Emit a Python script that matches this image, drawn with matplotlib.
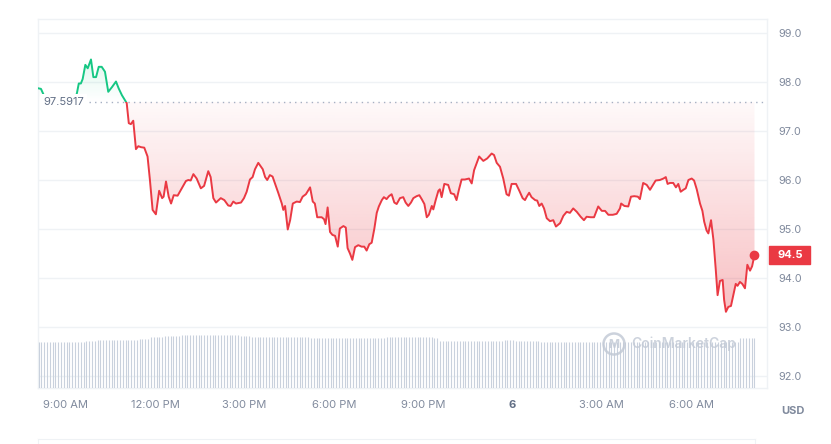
import numpy as np
import matplotlib
matplotlib.use('Agg')
from matplotlib import pyplot as plt
from matplotlib.path import Path
from matplotlib.patches import Rectangle, Ellipse
from matplotlib.colors import to_rgb
from matplotlib.transforms import blended_transform_factory

plt.rcParams['font.family'] = ['Inter', 'DejaVu Sans']

# hours since midnight of day 5 (24 = midnight, "6")
times = [8.08, 8.16, 8.22, 8.33, 8.53, 8.80, 9.07, 9.27, 9.37, 9.43,
         9.50, 9.56, 9.65, 9.73, 9.84, 9.92, 10.01, 10.10, 10.20, 10.31,
         10.42, 10.55, 10.68, 10.77, 10.88, 10.99, 11.04, 11.11, 11.18, 11.26,
         11.35, 11.43, 11.52, 11.63, 11.74, 11.82, 11.91, 12.02, 12.13, 12.23,
         12.28, 12.36, 12.45, 12.53, 12.62, 12.75, 12.92, 13.03, 13.11, 13.19,
         13.28, 13.39, 13.53, 13.64, 13.78, 13.86, 13.95, 14.04, 14.20, 14.32,
         14.45, 14.53, 14.62, 14.71, 14.88, 14.98, 15.07, 15.18, 15.27, 15.35,
         15.46, 15.61, 15.69, 15.76, 15.85, 15.94, 16.02, 16.13, 16.25, 16.30,
         16.36, 16.45, 16.53, 16.62, 16.75, 16.86, 16.95, 17.06, 17.20, 17.29,
         17.36, 17.44, 17.59, 17.67, 17.72, 17.79, 17.87, 17.95, 18.04, 18.13,
         18.20, 18.32, 18.40, 18.46, 18.54, 18.62, 18.71, 18.82, 18.93, 19.02,
         19.10, 19.19, 19.27, 19.36, 19.44, 19.51, 19.61, 19.68, 19.77, 19.85,
         19.94, 20.03, 20.11, 20.22, 20.33, 20.41, 20.50, 20.59, 20.67, 20.78,
         20.87, 20.95, 21.04, 21.12, 21.19, 21.29, 21.34, 21.42, 21.51, 21.56,
         21.62, 21.71, 21.84, 21.93, 22.04, 22.12, 22.20, 22.29, 22.40, 22.54,
         22.63, 22.71, 22.80, 22.88, 23.02, 23.15, 23.30, 23.38, 23.47, 23.58,
         23.69, 23.80, 23.88, 23.97, 24.12, 24.23, 24.34, 24.42, 24.48, 24.56,
         24.64, 24.76, 24.83, 24.90, 24.98, 25.06, 25.15, 25.26, 25.37, 25.46,
         25.60, 25.71, 25.82, 25.93, 26.04, 26.16, 26.29, 26.40, 26.49, 26.63,
         26.74, 26.88, 27.00, 27.11, 27.22, 27.37, 27.50, 27.61, 27.65, 27.76,
         27.89, 27.98, 28.09, 28.21, 28.28, 28.39, 28.51, 28.62, 28.70, 28.81,
         28.95, 29.07, 29.15, 29.21, 29.29, 29.40, 29.49, 29.57, 29.65, 29.74,
         29.82, 29.91, 30.02, 30.10, 30.19, 30.30, 30.38, 30.44, 30.52, 30.58,
         30.67, 30.75, 30.83, 30.89, 30.97, 31.06, 31.11, 31.17, 31.25, 31.34,
         31.42, 31.50, 31.56, 31.64, 31.72, 31.81, 31.89, 31.98, 32.05, 32.13]

prices = [97.87, 97.86, 97.78, 97.63, 97.49, 97.51, 97.45, 97.55, 97.78, 97.97,
          97.97, 98.06, 98.35, 98.28, 98.46, 98.10, 98.10, 98.31, 98.31, 98.21,
          97.80, 97.90, 98.01, 97.87, 97.73, 97.62, 97.57, 97.16, 97.14, 97.21,
          96.63, 96.69, 96.67, 96.66, 96.48, 96.00, 95.39, 95.30, 95.78, 95.63,
          95.66, 95.97, 95.66, 95.52, 95.69, 95.68, 95.86, 95.98, 96.00, 95.99,
          96.12, 96.03, 95.83, 95.88, 96.18, 96.06, 95.63, 95.54, 95.63, 95.59,
          95.48, 95.47, 95.56, 95.52, 95.54, 95.63, 95.76, 96.01, 96.06, 96.22,
          96.35, 96.22, 96.06, 96.00, 96.10, 96.07, 95.93, 95.74, 95.52, 95.39,
          95.47, 94.99, 95.18, 95.52, 95.56, 95.55, 95.66, 95.71, 95.85, 95.56,
          95.52, 95.24, 95.24, 95.20, 95.10, 95.44, 94.94, 94.88, 94.86, 94.64,
          95.01, 95.06, 95.03, 94.61, 94.50, 94.37, 94.63, 94.67, 94.64, 94.64,
          94.56, 94.69, 94.72, 95.01, 95.33, 95.46, 95.59, 95.65, 95.61, 95.67,
          95.71, 95.54, 95.51, 95.63, 95.65, 95.54, 95.47, 95.54, 95.63, 95.67,
          95.69, 95.61, 95.51, 95.24, 95.29, 95.47, 95.40, 95.59, 95.78, 95.81,
          95.65, 95.92, 95.90, 95.73, 95.71, 95.59, 95.80, 96.01, 96.01, 96.03,
          95.93, 96.20, 96.35, 96.48, 96.39, 96.44, 96.54, 96.51, 96.35, 96.27,
          96.03, 95.71, 95.68, 95.92, 95.92, 95.78, 95.63, 95.59, 95.66, 95.74,
          95.65, 95.59, 95.58, 95.47, 95.52, 95.42, 95.22, 95.16, 95.18, 95.05,
          95.12, 95.27, 95.35, 95.33, 95.42, 95.35, 95.25, 95.18, 95.25, 95.24,
          95.24, 95.46, 95.37, 95.37, 95.29, 95.29, 95.31, 95.42, 95.52, 95.47,
          95.46, 95.66, 95.67, 95.66, 95.61, 95.94, 95.90, 95.80, 95.88, 95.99,
          96.00, 96.03, 96.06, 95.92, 95.94, 95.94, 95.85, 95.92, 95.76, 95.80,
          95.83, 96.00, 96.03, 95.99, 95.81, 95.52, 95.37, 95.15, 94.97, 94.91,
          95.18, 94.78, 94.16, 93.65, 93.94, 93.96, 93.55, 93.31, 93.41, 93.43,
          93.65, 93.88, 93.84, 93.92, 93.88, 93.79, 94.27, 94.15, 94.24, 94.47]

# 24h volume (relative, billions) as runs over 256 evenly spaced bars
volume_levels = [4.60, 4.65, 4.73, 4.80, 4.85, 4.90, 5.13, 5.20, 5.30, 5.20, 5.07,
                 5.05, 5.00, 5.07, 5.00, 4.73, 4.85, 4.73, 4.63, 4.60, 4.97]
volume_counts = [9, 8, 4, 13, 2, 4, 5, 6, 21, 4, 21,
                 3, 24, 17, 2, 23, 4, 9, 21, 50, 6]

open_price = 97.5917
last_label = '94.5'
y_ticks = [92.0, 93.0, 94.0, 95.0, 96.0, 97.0, 98.0, 99.0]
x_ticks = [9, 12, 15, 18, 21, 24, 27, 30]
x_labels = ['9:00 AM', '12:00 PM', '3:00 PM', '6:00 PM', '9:00 PM', '6', '3:00 AM', '6:00 AM']

GREEN = '#16c784'
RED = '#ea3943'
GRID = '#eff2f5'
LABEL = '#808a9d'

t = np.array(times)
p = np.array(prices)
volume = np.repeat(volume_levels, volume_counts)
vol_t = np.linspace(t[0], t[-1], len(volume))

W, H = 831, 444
fig = plt.figure(figsize=(W / 100, H / 100), dpi=100)
ax = fig.add_axes([38 / W, 1 - 388 / H, (767 - 38) / W, (388 - 19) / H])
xlim = (8.06, 32.55)
ylim = (91.755, 99.286)

# gridlines / frame
ax.set_yticks(y_ticks, labels=[f'{v:.1f}' for v in y_ticks])
ax.set_xticks(x_ticks, labels=x_labels)
ax.grid(axis='y', color=GRID, lw=1)
ax.set_axisbelow(True)
for s in ax.spines.values():
    s.set_color(GRID)
    s.set_linewidth(1)
ax.yaxis.tick_right()
ax.tick_params(axis='y', length=0, pad=8, labelsize=7.8, labelcolor=LABEL)
ax.tick_params(axis='x', length=0, pad=9, labelsize=8, labelcolor=LABEL)
lbl6 = ax.get_xticklabels()[5]
lbl6.set_fontweight('bold')
lbl6.set_color('#616e85')


def gradient_fill(where, y0, y1, color, a_top, a_bottom):
    poly = ax.fill_between(t, p, open_price, where=where, interpolate=True,
                           color='none', lw=0)
    path = Path.make_compound_path(*poly.get_paths())
    img = np.zeros((256, 1, 4))
    img[..., :3] = to_rgb(color)
    img[:, 0, 3] = np.linspace(a_top, a_bottom, 256)
    im = ax.imshow(img, extent=[t[0], t[-1], y0, y1], origin='upper',
                   aspect='auto', zorder=2, interpolation='bilinear')
    im.set_clip_path(path, transform=ax.transData)


gradient_fill(p <= open_price, 93.0, open_price, RED, 0.03, 0.34)
gradient_fill(p >= open_price, open_price, 98.6, GREEN, 0.16, 0.0)

# price line, green above the open price, red below
ln_g, = ax.plot(t, p, color=GREEN, lw=1.4, zorder=3, solid_joinstyle='round')
ln_r, = ax.plot(t, p, color=RED, lw=1.4, zorder=3, solid_joinstyle='round')
ln_g.set_clip_path(Rectangle((xlim[0], open_price), xlim[1] - xlim[0], 10,
                             transform=ax.transData))
ln_r.set_clip_path(Rectangle((xlim[0], open_price - 10), xlim[1] - xlim[0], 10,
                             transform=ax.transData))
ax.plot(t[-1], p[-1], 'o', color=RED, ms=6, zorder=4)

# open price reference
ax.hlines(open_price, 9.77, xlim[1], color='#a6b0c3', lw=1,
          linestyles=(0, (1, 3)), zorder=3)
ax.text(8.23, open_price, f'{open_price:.4f}', va='center', ha='left',
        color='#616e85', fontsize=8, zorder=5,
        bbox=dict(fc='white', ec='none', pad=2.5))

ax.set_xlim(xlim)
ax.set_ylim(ylim)

# last price tag
tr = blended_transform_factory(ax.transAxes, ax.transData)
ax.add_patch(Rectangle((1 + 2 / 729, p[-1] - 0.184), 41 / 729, 0.367,
                       transform=tr, color=RED, clip_on=False, zorder=5))
ax.text(1 + 10 / 729, p[-1], last_label, transform=tr, color='white',
        fontweight='bold', fontsize=8, va='center', ha='left', clip_on=False,
        zorder=6)

# volume
vax = fig.add_axes([38 / W, 1 - 388 / H, (767 - 38) / W, 60 / H])
vax.vlines(vol_t, 0, volume, color='#c9d1dd', lw=0.8)
vax.set_xlim(xlim)
vax.set_ylim(0, 6.0)
vax.axis('off')
vax.patch.set_alpha(0)

# watermark
fig.patches.append(Ellipse((614 / W, 1 - 344 / H), 21 / W, 21 / H,
                           transform=fig.transFigure, fill=False,
                           ec='#c3cad6', lw=1.8, alpha=0.85))
fig.text(614 / W, 1 - 345 / H, 'M', color='#c3cad6', fontsize=8.5,
         fontweight='bold', ha='center', va='center', alpha=0.85)
fig.text(631 / W, 1 - 344 / H, 'CoinMarketCap', color='#c3cad6', fontsize=10,
         fontweight='semibold', ha='left', va='center', alpha=0.85)

fig.text(781 / W, 1 - 411 / H, 'USD', fontweight='bold', color=LABEL,
         fontsize=8, ha='left', va='center')

# navigator strip at the bottom
nav = fig.add_axes([38 / W, 0, (755 - 38) / W, 5 / H])
nav.set_xticks([])
nav.set_yticks([])
nav.spines['bottom'].set_visible(False)
for s in ['top', 'left', 'right']:
    nav.spines[s].set_color(GRID)

fig.savefig('out.png', dpi=100)
